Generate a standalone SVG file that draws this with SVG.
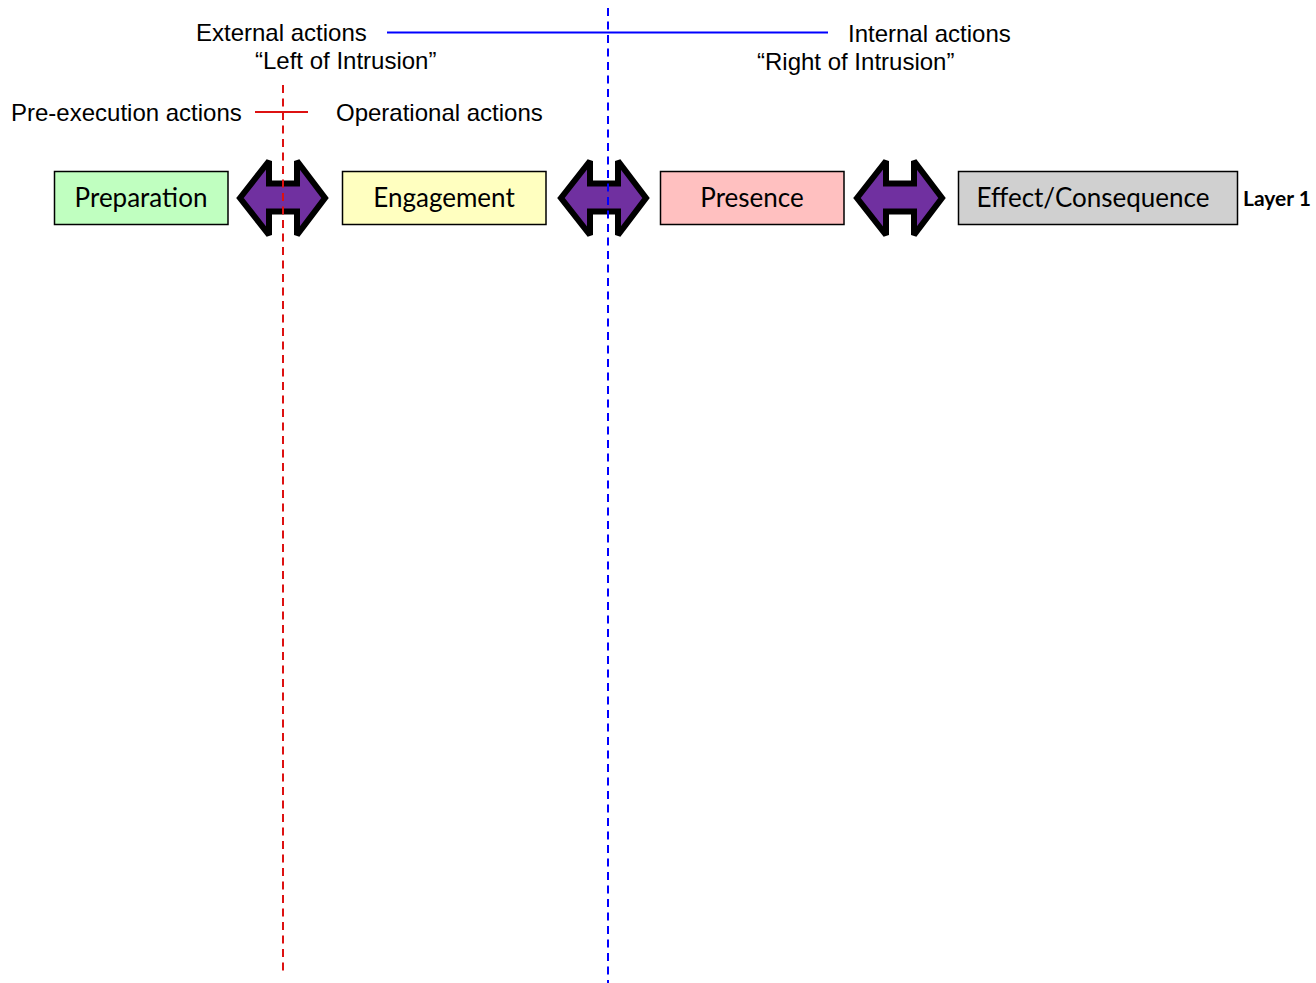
<svg xmlns="http://www.w3.org/2000/svg" width="1316" height="983" viewBox="0 0 1316 983">
<style>
.lbl{font-family:"Liberation Sans",Arial,sans-serif;font-size:24px;fill:#000}
.box{stroke:#000;stroke-width:1.5}
.bt{font-family:Lato,"Open Sans",sans-serif;font-size:26px;fill:#000;text-anchor:middle}
.arr{fill:#7030A0;stroke:#000;stroke-width:6;stroke-linejoin:miter;stroke-miterlimit:2}
</style>
<defs>
<path id="dbl" class="arr" d="M3,39 L32,2 L32,24.5 L60,24.5 L60,2 L88,39 L60,76 L60,52.5 L32,52.5 L32,76 Z"/>
</defs>
<rect width="1316" height="983" fill="#fff"/>
<g id="labels">
<text class="lbl" x="196" y="41">External actions</text>
<text class="lbl" x="255" y="69">“Left of Intrusion”</text>
<text class="lbl" x="848" y="42">Internal actions</text>
<text class="lbl" x="757" y="70">“Right of Intrusion”</text>
<text class="lbl" x="11" y="121">Pre-execution actions</text>
<text class="lbl" x="336" y="121">Operational actions</text>
</g>
<g id="preparation"><rect class="box" x="54.5" y="171.5" width="173.5" height="53" fill="#C0FFC0"/><text class="bt" x="141" y="207">Preparation</text></g>
<g id="engagement"><rect class="box" x="342.5" y="171.5" width="203.5" height="53" fill="#FFFFC0"/><text class="bt" x="444" y="207">Engagement</text></g>
<g id="presence"><rect class="box" x="660.5" y="171.5" width="183.5" height="53" fill="#FFC0C0"/><text class="bt" x="752" y="207">Presence</text></g>
<g id="effect"><rect class="box" x="958.5" y="171.5" width="279" height="53" fill="#D0D0D0"/><text class="bt" x="1093" y="207">Effect/Consequence</text></g>
<g id="layer1"><text x="1243" y="206" font-family="Lato,'Open Sans',sans-serif" font-size="21" font-weight="bold">Layer 1</text></g>
<g id="connectors">
<use href="#dbl" transform="translate(237,159)"/>
<use href="#dbl" transform="translate(558,159)"/>
<use href="#dbl" transform="translate(854,159)"/>
</g>
<g id="dividers">
<line x1="387" y1="32.5" x2="828" y2="32.5" stroke="#0000FF" stroke-width="2"/>
<line x1="608" y1="8" x2="608" y2="983" stroke="#0000FF" stroke-width="2" stroke-dasharray="8 5.5"/>
<line x1="255" y1="112" x2="308" y2="112" stroke="#DD1111" stroke-width="2"/>
<line x1="283" y1="85" x2="283" y2="972" stroke="#DD1111" stroke-width="2" stroke-dasharray="8 5.5"/>
</g>
</svg>
